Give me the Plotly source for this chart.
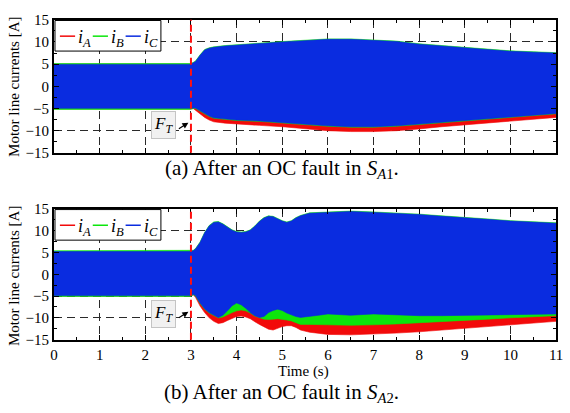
import plotly.graph_objects as go

# ---------------- data ----------------
# (a) fault in S_A1 : envelopes of the three phase currents [A]
t_a = [0, 2.99, 3.05, 3.1, 3.2, 3.3, 3.4, 3.5, 3.75, 4, 4.5, 5, 5.5, 6, 6.5,
       7, 7.5, 8, 8.5, 9, 9.5, 10, 10.5, 11]
a_blue_hi = [4.95, 4.95, 5.3, 5.6, 7.0, 8.2, 8.6, 8.8, 9.1, 9.3, 9.7, 10.0, 10.3,
             10.6, 10.6, 10.4, 10.1, 9.5, 9.1, 8.8, 8.4, 7.9, 7.7, 7.5]
a_blue_lo = [-4.95, -4.95, -4.9, -4.9, -5.4, -6.1, -6.7, -7.1, -7.4, -7.6, -7.8,
             -8.1, -8.5, -8.9, -9.1, -9.1, -8.9, -8.5, -8.0, -7.6, -7.2, -6.9,
             -6.5, -6.1]
a_green_hi = [5.15, 5.15, 5.4, 5.7, 7.1, 8.3, 8.7, 8.9, 9.2, 9.4, 9.8, 10.1, 10.4,
              10.7, 10.7, 10.5, 10.2, 9.6, 9.2, 8.9, 8.5, 8.0, 7.8, 7.6]
a_green_lo = [-5.2, -5.2, -5.0, -5.0, -5.5, -6.2, -6.8, -7.2, -7.5, -7.7, -7.9,
              -8.2, -8.6, -9.0, -9.2, -9.2, -9.0, -8.6, -8.1, -7.7, -7.3, -7.0,
              -6.6, -6.2]
a_red_hi = [5.0, 5.0, 4.0, 2.0, 1.0, 0.0, 0.0, 0.0, 0.0, 0.0, 0.0, 0.0, 0.0, 0.0,
            0.0, 0.0, 0.0, 0.0, 0.0, 0.0, 0.0, 0.0, 0.0, 0.0]
a_red_lo = [-5.1, -5.1, -5.0, -5.3, -6.2, -7.0, -7.6, -8.0, -8.3, -8.5, -8.8, -9.1,
            -9.5, -10.0, -10.2, -10.2, -10.0, -9.6, -9.1, -8.6, -8.2, -7.8, -7.4,
            -7.0]

# (b) fault in S_A2
t_b = [0, 2.99, 3.05, 3.1, 3.2, 3.3, 3.4, 3.5, 3.6, 3.7, 3.8, 3.9, 4.0, 4.1, 4.2,
       4.3, 4.4, 4.5, 4.6, 4.7, 4.8, 4.9, 5.0, 5.1, 5.2, 5.3, 5.4, 5.6, 5.8, 6.0,
       6.5, 7, 7.5, 8, 8.5, 9, 9.5, 10, 10.5, 11]
b_blue_hi = [5.2, 5.2, 5.4, 5.8, 7.3, 9.5, 11.1, 11.9, 12.0, 11.5, 10.8, 10.1, 9.7,
             9.6, 9.7, 10.1, 11.0, 12.1, 12.9, 13.3, 13.2, 12.7, 12.2, 11.9, 12.2,
             12.9, 13.4, 14.0, 14.1, 14.1, 14.4, 14.2, 14.0, 13.7, 13.3, 13.0,
             12.6, 12.2, 11.9, 11.7]
b_blue_lo = [-4.9, -4.9, -4.6, -4.9, -6.6, -7.9, -8.8, -9.4, -9.9, -9.4, -8.4,
             -7.2, -6.6, -7.0, -7.8, -8.8, -9.5, -9.9, -9.7, -8.8, -8.3, -8.0,
             -8.3, -8.9, -9.3, -9.7, -9.9, -9.6, -9.4, -9.1, -9.4, -9.1, -9.3,
             -9.5, -9.5, -9.5, -9.4, -9.3, -9.2, -9.1]
b_green_hi = [5.4, 5.4, 5.5, 5.9, 7.4, 9.6, 11.2, 12.0, 12.1, 11.6, 10.9, 10.2,
              9.8, 9.7, 9.8, 10.2, 11.1, 12.2, 13.0, 13.4, 13.3, 12.8, 12.3, 12.0,
              12.3, 13.0, 13.5, 14.1, 14.2, 14.2, 14.5, 14.3, 14.1, 13.8, 13.4,
              13.1, 12.7, 12.3, 12.0, 11.8]
b_green_lo = [-5.1, -5.1, -4.7, -5.0, -6.7, -8.0, -8.9, -9.5, -10.0, -9.8, -9.3,
              -8.8, -8.4, -8.2, -8.4, -8.9, -9.6, -10.0, -10.3, -10.4, -10.3,
              -10.2, -10.3, -10.5, -10.7, -11.1, -11.5, -11.5, -11.5, -11.6,
              -11.7, -11.6, -11.4, -11.2, -10.9, -10.6, -10.3, -10.0, -9.7, -9.5]
b_red_hi = [5.0, 5.0, 4.0, 2.0] + [0.0] * 36
b_red_lo = [-5.0, -5.0, -4.7, -5.3, -7.3, -8.8, -10.0, -10.8, -11.3, -11.1, -10.6,
            -10.1, -9.7, -9.6, -9.8, -10.2, -10.9, -11.5, -12.1, -12.6, -12.8,
            -12.4, -12.0, -11.8, -11.8, -12.2, -12.8, -13.3, -13.6, -13.8, -13.9,
            -13.7, -13.5, -13.2, -12.9, -12.5, -12.1, -11.6, -11.2, -10.8]

fault_time = 3.0
x_ticks = list(range(0, 12))
y_ticks = [-15, -10, -5, 0, 5, 10, 15]
phase_names = ["A", "B", "C"]
captions = ["(a) After an OC fault in <i>S</i><sub><i>A</i>1</sub>.",
            "(b) After an OC fault in <i>S</i><sub><i>A</i>2</sub>."]
y_title = "Motor line currents [A]"
x_title = "Time (s)"

# ---------------- styling ----------------
W, H = 570, 413
FONT = "'Liberation Serif', 'Times New Roman', 'DejaVu Serif', serif"
RED, GREEN, BLUE = "#f20a0a", "#0ce60c", "#0a2ce0"
colors = [RED, GREEN, BLUE]

X_L, X_R = 51, 563
A_T, A_B = 12.3, 150.7
B_T, B_B = 209.0, 345.0


def px(x):
    return x / W


def py(y):
    return 1 - y / H


fig = go.Figure()


def band(t, hi, lo, color, xa, ya):
    fig.add_trace(go.Scatter(
        x=list(t) + list(t)[::-1], y=list(hi) + list(lo)[::-1],
        fill="toself", fillcolor=color, mode="lines",
        line=dict(color=color, width=0.6), xaxis=xa, yaxis=ya,
        showlegend=False, hoverinfo="skip"))


for (hi, lo), c in zip([(a_red_hi, a_red_lo), (a_green_hi, a_green_lo),
                        (a_blue_hi, a_blue_lo)], colors):
    band(t_a, hi, lo, c, "x", "y")
for (hi, lo), c in zip([(b_red_hi, b_red_lo), (b_green_hi, b_green_lo),
                        (b_blue_hi, b_blue_lo)], colors):
    band(t_b, hi, lo, c, "x2", "y2")

axis_common = dict(
    showline=True, linecolor="black", linewidth=2, mirror="allticks",
    ticks="inside", ticklen=5, tickwidth=1, tickcolor="black",
    showgrid=True, gridcolor="#2a2a2a", gridwidth=1, griddash="8px,5px",
    zeroline=False, ticklabeloverflow="allow",
    tickfont=dict(family=FONT, size=15, color="black"),
)
xcommon = dict(axis_common, range=[0, 11], tickvals=x_ticks,
               minor=dict(dtick=0.5, tick0=0, ticks="inside", ticklen=3,
                          tickcolor="black", showgrid=False))
ycommon = dict(axis_common, range=[-15, 15], tickvals=y_ticks,
               minor=dict(dtick=2.5, tick0=0, ticks="inside", ticklen=3,
                          tickcolor="black", showgrid=False))

fig.update_layout(
    width=W, height=H, margin=dict(l=0, r=0, t=0, b=0),
    paper_bgcolor="white", plot_bgcolor="white",
    font=dict(family=FONT, color="black"),
    xaxis=dict(xcommon, domain=[px(X_L), px(X_R)], anchor="y",
               showticklabels=False),
    yaxis=dict(ycommon, domain=[py(A_B), py(A_T)], anchor="x"),
    xaxis2=dict(xcommon, domain=[px(X_L), px(X_R)], anchor="y2"),
    yaxis2=dict(ycommon, domain=[py(B_B), py(B_T)], anchor="x2"),
)

shapes = []
annotations = []
for k, (xr, yr, top) in enumerate([("x", "y", A_T), ("x2", "y2", B_T)]):
    # fault line
    shapes.append(dict(type="line", xref=xr, yref=yr + " domain",
                       x0=fault_time, x1=fault_time, y0=0, y1=1,
                       line=dict(color="#ff1010", width=2, dash="7px,4px"),
                       layer="above"))
    # legend box
    shapes.append(dict(type="rect", xref="paper", yref="paper",
                       x0=px(52), x1=px(160), y0=py(top + 32.5), y1=py(top + 0.7),
                       fillcolor="white", line=dict(color="black", width=1),
                       layer="above"))
    for j, (name, c) in enumerate(zip(phase_names, colors)):
        x0 = 57 + j * 33.5
        shapes.append(dict(type="line", xref="paper", yref="paper",
                           x0=px(x0), x1=px(x0 + 15.5),
                           y0=py(top + 17), y1=py(top + 17),
                           line=dict(color=c, width=1.5), layer="above"))
        annotations.append(dict(
            xref="paper", yref="paper", x=px(x0 + 16.5), y=py(top + 19),
            xanchor="left", yanchor="middle", showarrow=False,
            text="<i>i</i><sub><i>%s</i></sub>" % name,
            font=dict(family=FONT, size=18, color="black")))
    # F_T marker
    annotations.append(dict(
        xref="paper", yref="paper", x=px(162.5), y=py(top + 109.5),
        xanchor="center", yanchor="middle", showarrow=False,
        text="<i>F</i><sub><i>T</i></sub>",
        font=dict(family=FONT, size=17, color="black"),
        bgcolor="#f1f1f1", bordercolor="#c4c4c4", borderwidth=1, borderpad=2))
    annotations.append(dict(
        xref="paper", yref="paper", x=px(188), y=py(top + 107),
        ax=-11, ay=7, axref="pixel", ayref="pixel", text="",
        showarrow=True, arrowhead=2, arrowsize=1, arrowwidth=1.2,
        arrowcolor="black", standoff=0))
    # y-axis title
    annotations.append(dict(
        xref="paper", yref="paper", x=px(10), y=py(top + 70),
        xanchor="center", yanchor="middle", showarrow=False, textangle=-90,
        text=y_title, font=dict(family=FONT, size=15, color="black")))

# captions and x title
annotations.append(dict(xref="paper", yref="paper", x=px(283), y=py(168),
                        xanchor="center", yanchor="middle", showarrow=False,
                        text=captions[0],
                        font=dict(family=FONT, size=21, color="black")))
annotations.append(dict(xref="paper", yref="paper", x=px(283), y=py(400),
                        xanchor="center", yanchor="middle", showarrow=False,
                        text=captions[1],
                        font=dict(family=FONT, size=21, color="black")))
annotations.append(dict(xref="paper", yref="paper", x=px(305), y=py(378),
                        xanchor="center", yanchor="middle", showarrow=False,
                        text=x_title,
                        font=dict(family=FONT, size=15, color="black")))

fig.update_layout(shapes=shapes, annotations=annotations)
fig.write_html("out.html")
